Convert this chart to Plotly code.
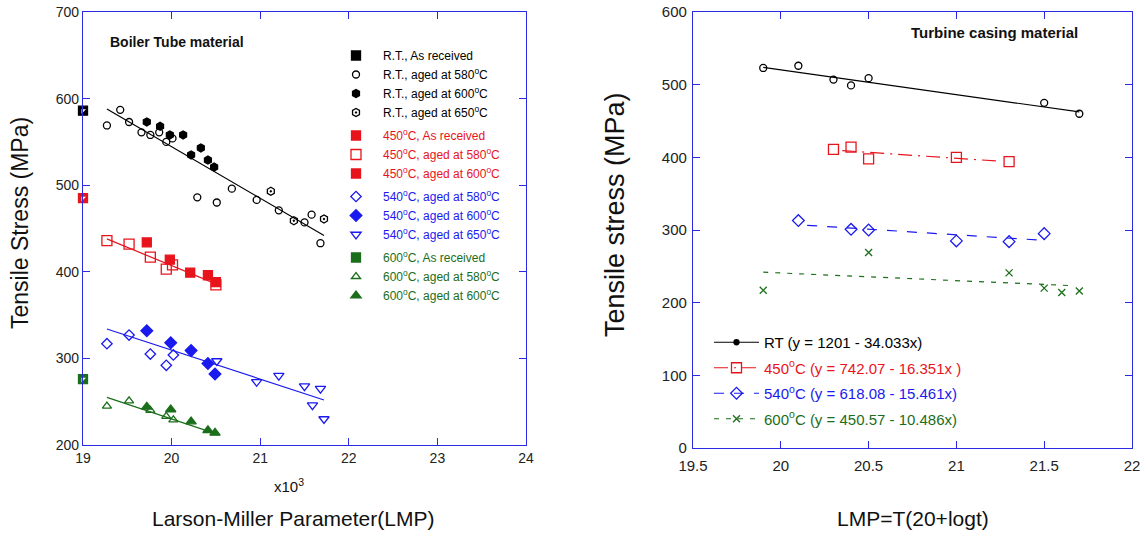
import plotly.graph_objects as go

# ---------------- Left chart: Boiler tube material ----------------
rt_ar_x = [19.0]
rt_ar_y = [586]
rt_580_x = [19.27, 19.42, 19.52, 19.66, 19.76, 19.86, 19.94, 20.01, 20.29, 20.51, 20.68, 20.96, 21.21, 21.50, 21.58, 21.68]
rt_580_y = [569, 587, 573, 561, 558, 561, 550, 554, 486, 480, 496, 483, 471, 457, 466, 433]
rt_600_x = [19.72, 19.87, 19.98, 20.13, 20.22, 20.33, 20.41, 20.48]
rt_600_y = [573, 568, 558, 558, 535, 543, 529, 521]
rt_650_x = [21.12, 21.38, 21.72]
rt_650_y = [493, 459, 461]

t450_ar_x = [19.0]
t450_ar_y = [485]
t450_580_x = [19.27, 19.52, 19.76, 19.94, 20.01, 20.50]
t450_580_y = [436, 432, 417, 403, 408, 385]
t450_600_x = [19.72, 19.98, 20.21, 20.41, 20.50]
t450_600_y = [434, 414, 399, 396, 388]

t540_580_x = [19.27, 19.52, 19.76, 19.94, 20.02]
t540_580_y = [317, 327, 305, 292, 304]
t540_600_x = [19.72, 19.99, 20.22, 20.41, 20.49]
t540_600_y = [332, 318, 309, 294, 282]
t540_650_x = [20.51, 20.96, 21.21, 21.50, 21.59, 21.68, 21.72]
t540_650_y = [297, 273, 280, 268, 246, 265, 230]

t600_ar_x = [19.0]
t600_ar_y = [276]
t600_580_x = [19.27, 19.52, 19.76, 19.94, 20.02]
t600_580_y = [245, 251, 240, 233, 229]
t600_600_x = [19.72, 19.99, 20.22, 20.41, 20.49]
t600_600_y = [244, 241, 227, 217, 214]

fit_rt_x = [19.27, 21.72]
fit_rt_y = [588, 442]
fit_450_x = [19.27, 20.50]
fit_450_y = [438, 386]
fit_540_x = [19.27, 21.72]
fit_540_y = [334, 252]
fit_600_x = [19.27, 20.53]
fit_600_y = [255, 212]

left_xticks = [19, 20, 21, 22, 23, 24]
left_yticks = [200, 300, 400, 500, 600, 700]

# ---------------- Right chart: Turbine casing material ----------------
tc_rt_x = [19.9, 20.1, 20.3, 20.4, 20.5, 21.5, 21.7]
tc_rt_y = [523, 526, 507, 499, 509, 475, 460]
tc_450_x = [20.3, 20.4, 20.5, 21.0, 21.3]
tc_450_y = [411, 414, 398, 400, 394]
tc_540_x = [20.1, 20.4, 20.5, 21.0, 21.3, 21.5]
tc_540_y = [313, 301, 300, 285, 284, 295]
tc_600_x = [19.9, 20.5, 21.3, 21.5, 21.6, 21.7]
tc_600_y = [217, 269, 241, 220, 214, 216]

tcfit_rt_x = [19.9, 21.7]
tcfit_rt_y = [523.7, 462.5]
tcfit_450_x = [20.35, 21.25]
tcfit_450_y = [409.3, 394.6]
tcfit_540_x = [20.15, 21.5]
tcfit_540_y = [306.5, 285.7]
tcfit_600_x = [19.9, 21.65]
tcfit_600_y = [241.9, 223.5]

right_xticks = [19.5, 20, 20.5, 21, 21.5, 22]
right_yticks = [0, 100, 200, 300, 400, 500, 600]

BLACK = "#000000"
RED = "#e8141c"
BLUE = "#1a1aee"
GREEN = "#1b6e1b"
AXIS = "#2a2ae6"
FONT = "Arial, Liberation Sans, sans-serif"
W, H = 1147, 533

fig = go.Figure()


def pts(x, y, sym, color, size, name=None, group=None, legend="legend", show=True,
        xa="x", ya="y", lw=1.3):
    fig.add_trace(go.Scatter(
        x=x, y=y, mode="markers", xaxis=xa, yaxis=ya,
        marker=dict(symbol=sym, color=color, size=size, line=dict(color=color, width=lw)),
        name=name, legendgroup=group, legend=legend, showlegend=show and name is not None,
        cliponaxis=False))


def half(x, y, color, name, group):
    # half-filled square: filled square with a white notch
    pts(x, y, "square", color, 9, name, group)
    fig.add_trace(go.Scatter(
        x=x, y=y, mode="markers", xaxis="x", yaxis="y",
        marker=dict(symbol="triangle-nw", color="white", size=5, line=dict(width=0)),
        showlegend=False, cliponaxis=False, hoverinfo="skip"))


def fit(x, y, color, dash="solid", xa="x", ya="y", w=1.2):
    fig.add_trace(go.Scatter(x=x, y=y, mode="lines", xaxis=xa, yaxis=ya,
                             line=dict(color=color, width=w, dash=dash),
                             showlegend=False, hoverinfo="skip"))


def lab(txt, color):
    return f"<span style='color:{color}'>{txt}</span>"


# left fit lines
fit(fit_rt_x, fit_rt_y, BLACK)
fit(fit_450_x, fit_450_y, RED)
fit(fit_540_x, fit_540_y, BLUE)
fit(fit_600_x, fit_600_y, GREEN)

# left markers
half(rt_ar_x, rt_ar_y, BLACK, lab("R.T., As received", BLACK), "g1")
pts(rt_580_x, rt_580_y, "circle-open", BLACK, 7, lab("R.T., aged at 580<sup>o</sup>C", BLACK), "g1")
pts(rt_600_x, rt_600_y, "hexagon", BLACK, 8, lab("R.T., aged at 600<sup>o</sup>C", BLACK), "g1")
pts(rt_650_x, rt_650_y, "hexagon-open-dot", BLACK, 8, lab("R.T., aged at 650<sup>o</sup>C", BLACK), "g1")

half(t450_ar_x, t450_ar_y, RED, lab("450<sup>o</sup>C, As received", RED), "g2")
pts(t450_580_x, t450_580_y, "square-open", RED, 10, lab("450<sup>o</sup>C, aged at 580<sup>o</sup>C", RED), "g2")
pts(t450_600_x, t450_600_y, "square", RED, 9, lab("450<sup>o</sup>C, aged at 600<sup>o</sup>C", RED), "g2")

pts(t540_580_x, t540_580_y, "diamond-open", BLUE, 8, lab("540<sup>o</sup>C, aged at 580<sup>o</sup>C", BLUE), "g3")
pts(t540_600_x, t540_600_y, "diamond", BLUE, 9, lab("540<sup>o</sup>C, aged at 600<sup>o</sup>C", BLUE), "g3")
pts(t540_650_x, t540_650_y, "triangle-down-open", BLUE, 9, lab("540<sup>o</sup>C, aged at 650<sup>o</sup>C", BLUE), "g3")

half(t600_ar_x, t600_ar_y, GREEN, lab("600<sup>o</sup>C, As received", GREEN), "g4")
pts(t600_580_x, t600_580_y, "triangle-up-open", GREEN, 8, lab("600<sup>o</sup>C, aged at 580<sup>o</sup>C", GREEN), "g4")
pts(t600_600_x, t600_600_y, "triangle-up", GREEN, 9, lab("600<sup>o</sup>C, aged at 600<sup>o</sup>C", GREEN), "g4")

# right fit lines
fit(tcfit_rt_x, tcfit_rt_y, BLACK, "solid", "x2", "y2")
fit(tcfit_450_x, tcfit_450_y, RED, "14px,6px,2px,6px", "x2", "y2")
fit(tcfit_540_x, tcfit_540_y, BLUE, "10px,10px", "x2", "y2")
fit(tcfit_600_x, tcfit_600_y, GREEN, "5px,7px", "x2", "y2")

# right markers
pts(tc_rt_x, tc_rt_y, "circle-open", BLACK, 7, xa="x2", ya="y2", show=False)
pts(tc_450_x, tc_450_y, "square-open", RED, 10, xa="x2", ya="y2", show=False)
pts(tc_540_x, tc_540_y, "diamond-open", BLUE, 9, xa="x2", ya="y2", show=False)
pts(tc_600_x, tc_600_y, "x-thin-open", GREEN, 7, xa="x2", ya="y2", show=False)

# right legend entries
leg2 = [
    ("RT (y = 1201 - 34.033x)", BLACK, "circle", 5, "solid"),
    ("450<sup>o</sup>C (y = 742.07 - 16.351x )", RED, "square-open", 10, "14px,6px,2px,6px"),
    ("540<sup>o</sup>C (y = 618.08 - 15.461x)", BLUE, "diamond-open", 9, "10px,10px"),
    ("600<sup>o</sup>C (y = 450.57 - 10.486x)", GREEN, "x-thin-open", 7, "5px,7px"),
]
for i, (nm, c, sym, sz, dash) in enumerate(leg2):
    fig.add_trace(go.Scatter(
        x=[None], y=[None], mode="lines+markers", xaxis="x2", yaxis="y2",
        line=dict(color=c, width=1.2, dash=dash),
        marker=dict(symbol=sym, color=c, size=sz, line=dict(color=c, width=1.3)),
        name=lab(nm, c), legend="legend2", legendgroup=f"r{i}", showlegend=True))

axis_common = dict(showgrid=False, zeroline=False, showline=True, linecolor=AXIS, linewidth=1.3,
                   mirror="ticks", ticks="inside", ticklen=7, tickcolor=AXIS, tickwidth=1.3,
                   automargin=False)


def ann(text, px, py, size, angle=0, xanchor="center"):
    return dict(text=text, x=px / W, y=1 - py / H, xref="paper", yref="paper",
                xanchor=xanchor, yanchor="middle", textangle=angle, showarrow=False,
                font=dict(family=FONT, size=size, color="#111111"))


fig.update_layout(
    width=W, height=H,
    margin=dict(l=0, r=0, t=0, b=0, pad=0),
    paper_bgcolor="white", plot_bgcolor="white",
    font=dict(family=FONT, color="#222222"),
    xaxis=dict(domain=[83 / W, 526 / W], range=[19, 24], tickvals=left_xticks,
               tickfont=dict(size=14), anchor="y", **axis_common),
    yaxis=dict(domain=[1 - 445 / H, 1 - 12 / H], range=[200, 700], tickvals=left_yticks,
               tickfont=dict(size=14), anchor="x", **axis_common),
    xaxis2=dict(domain=[693 / W, 1132 / W], range=[19.5, 22], tickvals=right_xticks,
                tickfont=dict(size=15), anchor="y2", ticklabelstandoff=4, **axis_common),
    yaxis2=dict(domain=[1 - 448 / H, 1 - 12 / H], range=[0, 600], tickvals=right_yticks,
                tickfont=dict(size=15), anchor="x2", ticklabelstandoff=2, **axis_common),
    legend=dict(x=329 / W, y=1 - 41 / H, xanchor="left", yanchor="top",
                font=dict(family=FONT, size=12), bgcolor="rgba(0,0,0,0)",
                tracegroupgap=4, itemwidth=44, traceorder="grouped"),
    legend2=dict(x=709 / W, y=1 - 326 / H, xanchor="left", yanchor="top",
                 font=dict(family=FONT, size=15), bgcolor="rgba(0,0,0,0)",
                 tracegroupgap=3, itemwidth=45, traceorder="grouped"),
    annotations=[
        ann("<b>Boiler Tube material</b>", 108, 42, 14, xanchor="left"),
        ann("<b>Turbine casing material</b>", 909, 33, 15, xanchor="left"),
        ann("Tensile Stress (MPa)", 20, 223, 23, angle=-90),
        ann("Tensile stress (MPa)", 615, 215, 27, angle=-90),
        ann("x10<sup>3</sup>", 289, 485, 15),
        ann("Larson-Miller Parameter(LMP)", 293, 518, 21),
        ann("LMP=T(20+logt)", 913, 518, 21),
    ],
)

fig.write_html("out.html")
